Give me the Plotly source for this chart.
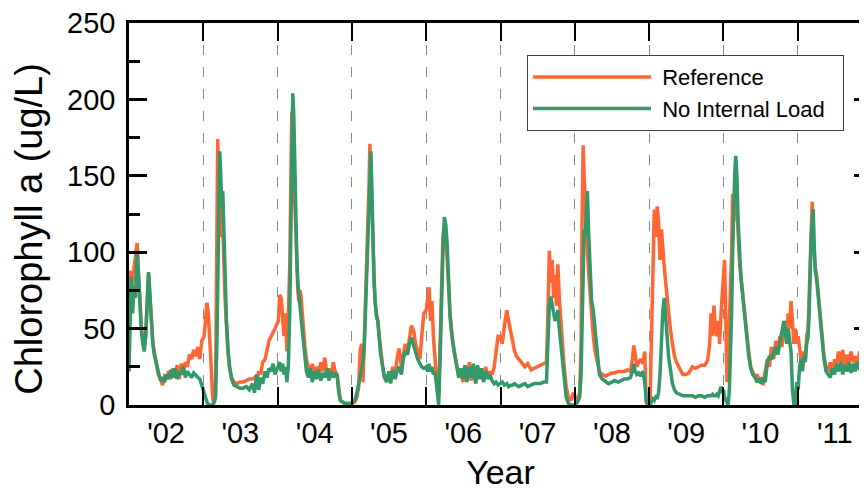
import plotly.graph_objects as go

# ---- data ----
dates = [
    # 2002
    "2002-01-01", "2002-01-06", "2002-01-12", "2002-01-19", "2002-01-26", "2002-02-02", "2002-02-10", "2002-02-17", "2002-02-24",
    "2002-03-03", "2002-03-10", "2002-03-17", "2002-03-24", "2002-03-31", "2002-04-07", "2002-04-14", "2002-04-21", "2002-04-28",
    "2002-05-05", "2002-05-15", "2002-05-25", "2002-06-05", "2002-06-15", "2002-06-25", "2002-07-05", "2002-07-15", "2002-07-25",
    "2002-08-05", "2002-08-15", "2002-08-25", "2002-09-05", "2002-09-15", "2002-09-25", "2002-10-05", "2002-10-15", "2002-10-25",
    "2002-11-05", "2002-11-15", "2002-11-25", "2002-12-05", "2002-12-15", "2002-12-25",
    # 2003
    "2003-01-05", "2003-01-12", "2003-01-19", "2003-01-26", "2003-02-02", "2003-02-09", "2003-02-16", "2003-02-23",
    "2003-03-02", "2003-03-09", "2003-03-13", "2003-03-18", "2003-03-23", "2003-03-28", "2003-04-02", "2003-04-07",
    "2003-04-12", "2003-04-18", "2003-04-25", "2003-05-02", "2003-05-10", "2003-05-20", "2003-06-01", "2003-06-15",
    "2003-07-01", "2003-07-15", "2003-08-01", "2003-08-15", "2003-09-01", "2003-09-10", "2003-09-20", "2003-10-01",
    "2003-10-10", "2003-10-20", "2003-11-01", "2003-11-10", "2003-11-20", "2003-12-01", "2003-12-10", "2003-12-20",
    # 2004
    "2004-01-05", "2004-01-12", "2004-01-19", "2004-01-26", "2004-02-02", "2004-02-09", "2004-02-16", "2004-02-23",
    "2004-03-01", "2004-03-06", "2004-03-11", "2004-03-16", "2004-03-21", "2004-03-26", "2004-03-31", "2004-04-05",
    "2004-04-10", "2004-04-15", "2004-04-20", "2004-04-25", "2004-05-01", "2004-05-08", "2004-05-15", "2004-05-22",
    "2004-06-01", "2004-06-10", "2004-06-20", "2004-07-01", "2004-07-10", "2004-07-20", "2004-08-01", "2004-08-10",
    "2004-08-20", "2004-09-01", "2004-09-10", "2004-09-20", "2004-10-01", "2004-10-10", "2004-10-20", "2004-10-28",
    "2004-11-05", "2004-11-15", "2004-11-25", "2004-12-05", "2004-12-15", "2004-12-25",
    # 2005
    "2005-01-05", "2005-01-15", "2005-01-25", "2005-02-03", "2005-02-10", "2005-02-17", "2005-02-24", "2005-03-03",
    "2005-03-10", "2005-03-15", "2005-03-20", "2005-03-25", "2005-03-30", "2005-04-04", "2005-04-09", "2005-04-14",
    "2005-04-19", "2005-04-24", "2005-05-01", "2005-05-08", "2005-05-15", "2005-05-22", "2005-06-01", "2005-06-10",
    "2005-06-20", "2005-07-01", "2005-07-10", "2005-07-20", "2005-08-01", "2005-08-10", "2005-08-20", "2005-09-01",
    "2005-09-10", "2005-09-20", "2005-10-01", "2005-10-10", "2005-10-20", "2005-11-01", "2005-11-10", "2005-11-20",
    "2005-12-01", "2005-12-10", "2005-12-20",
    # 2006
    "2006-01-01", "2006-01-08", "2006-01-15", "2006-01-22", "2006-01-29", "2006-02-05", "2006-02-12", "2006-02-19",
    "2006-02-26", "2006-03-03", "2006-03-10", "2006-03-17", "2006-03-24", "2006-03-31", "2006-04-07", "2006-04-14",
    "2006-04-21", "2006-04-28", "2006-05-05", "2006-05-12", "2006-05-20", "2006-06-01", "2006-06-10", "2006-06-20",
    "2006-07-01", "2006-07-10", "2006-07-20", "2006-08-01", "2006-08-10", "2006-08-20", "2006-09-01", "2006-09-10",
    "2006-09-20", "2006-10-01", "2006-10-10", "2006-10-20", "2006-11-01", "2006-11-10", "2006-11-20", "2006-12-01",
    "2006-12-10", "2006-12-20",
    # 2007
    "2007-01-01", "2007-01-10", "2007-01-20", "2007-02-01", "2007-02-10", "2007-02-20", "2007-03-01", "2007-03-10",
    "2007-03-20", "2007-04-01", "2007-04-15", "2007-05-01", "2007-05-15", "2007-06-01", "2007-06-15", "2007-07-01",
    "2007-07-15", "2007-08-01", "2007-08-15", "2007-08-22", "2007-08-29", "2007-09-05", "2007-09-12", "2007-09-19",
    "2007-09-26", "2007-10-03", "2007-10-10", "2007-10-17", "2007-10-24", "2007-11-01", "2007-11-10", "2007-11-20",
    "2007-12-01", "2007-12-15", "2007-12-25",
    # 2008
    "2008-01-05", "2008-01-15", "2008-01-25", "2008-02-01", "2008-02-06", "2008-02-11", "2008-02-16", "2008-02-21",
    "2008-02-26", "2008-03-03", "2008-03-10", "2008-03-17", "2008-03-24", "2008-04-01", "2008-04-10", "2008-04-20",
    "2008-05-01", "2008-05-15", "2008-06-01", "2008-06-15", "2008-07-01", "2008-07-15", "2008-08-01", "2008-08-15",
    "2008-09-01", "2008-09-15", "2008-10-01", "2008-10-10", "2008-10-17", "2008-10-24", "2008-11-01", "2008-11-10",
    "2008-11-20", "2008-12-01", "2008-12-10", "2008-12-17", "2008-12-25",
    # 2009
    "2009-01-05", "2009-01-12", "2009-01-19", "2009-01-26", "2009-02-02", "2009-02-09", "2009-02-16", "2009-02-23",
    "2009-03-02", "2009-03-09", "2009-03-16", "2009-03-23", "2009-03-30", "2009-04-06", "2009-04-15", "2009-04-25",
    "2009-05-05", "2009-05-15", "2009-06-01", "2009-06-15", "2009-07-01", "2009-07-15", "2009-08-01", "2009-08-15",
    "2009-09-01", "2009-09-15", "2009-10-01", "2009-10-15", "2009-10-25", "2009-11-01", "2009-11-08", "2009-11-15",
    "2009-11-22", "2009-11-29", "2009-12-06", "2009-12-13", "2009-12-20", "2009-12-27",
    # 2010
    "2010-01-01", "2010-01-06", "2010-01-12", "2010-01-18", "2010-01-24", "2010-01-30", "2010-02-05", "2010-02-10",
    "2010-02-15", "2010-02-20", "2010-02-25", "2010-03-02", "2010-03-08", "2010-03-14", "2010-03-20", "2010-03-27",
    "2010-04-03", "2010-04-10", "2010-04-18", "2010-04-26", "2010-05-05", "2010-05-15", "2010-05-25", "2010-06-05",
    "2010-06-15", "2010-06-25", "2010-07-05", "2010-07-15", "2010-07-25", "2010-08-05", "2010-08-15", "2010-08-25",
    "2010-09-05", "2010-09-15", "2010-09-25", "2010-10-05", "2010-10-15", "2010-10-25", "2010-11-01", "2010-11-08",
    "2010-11-15", "2010-11-22", "2010-11-29", "2010-12-06", "2010-12-13", "2010-12-20", "2010-12-27",
    # 2011
    "2011-01-03", "2011-01-10", "2011-01-17", "2011-01-24", "2011-01-31", "2011-02-07", "2011-02-14", "2011-02-21",
    "2011-02-26", "2011-03-03", "2011-03-08", "2011-03-13", "2011-03-18", "2011-03-23", "2011-03-28", "2011-04-04",
    "2011-04-11", "2011-04-18", "2011-04-25", "2011-05-02", "2011-05-10", "2011-05-20", "2011-06-01", "2011-06-10",
    "2011-06-20", "2011-07-01", "2011-07-10", "2011-07-20", "2011-08-01", "2011-08-10", "2011-08-20", "2011-09-01",
    "2011-09-10", "2011-09-20", "2011-10-01", "2011-10-10", "2011-10-20", "2011-11-01", "2011-11-10", "2011-11-20",
    "2011-12-01", "2011-12-10", "2011-12-20", "2011-12-31",
]

reference = [
    # 2002
    30, 88, 75, 80, 90, 98, 106, 85, 70, 50, 45, 38, 45, 70, 86, 70, 50, 42, 35, 28,
    20, 17, 13, 19, 18, 22, 17, 24, 18, 26, 17, 27, 22, 28, 25, 33, 30, 36, 32, 38, 30, 42,
    # 2003
    45, 55, 67, 60, 45, 25, 5, 1, 5, 150, 174, 150, 130, 110, 140, 110, 95, 70, 50, 35,
    25, 18, 15, 14, 15, 15, 16, 17, 17, 18, 15, 22, 20, 28, 30, 35, 42, 45, 48, 50,
    # 2004
    55, 72, 70, 55, 45, 60, 35, 60, 90, 140, 192, 170, 150, 120, 100, 90, 75, 68, 75, 72,
    60, 45, 38, 30, 25, 20, 27, 18, 25, 20, 28, 22, 31, 20, 24, 18, 28, 22, 20, 10,
    3, 2, 1, 1, 1, 1,
    # 2005
    1, 2, 5, 12, 35, 40, 15, 45, 70, 100, 120, 140, 171, 150, 125, 100, 80, 68, 60, 55,
    45, 35, 25, 18, 17, 20, 16, 25, 18, 30, 37, 25, 32, 40, 35, 45, 52, 48, 40, 35,
    30, 45, 60,
    # 2006
    62, 70, 77, 55, 68, 45, 30, 20, 10, 5, 40, 80, 110, 118, 110, 95, 75, 60, 50, 40,
    35, 25, 18, 22, 15, 25, 17, 28, 16, 24, 15, 25, 18, 22, 16, 25, 18, 22, 20, 25,
    35, 45,
    # 2007
    45, 40, 52, 62, 55, 48, 40, 36, 32, 30, 28, 25, 27, 23, 24, 25, 26, 27, 28, 60,
    101, 80, 95, 70, 85, 65, 92, 70, 55, 40, 25, 12, 5, 3, 8,
    # 2008
    5, 3, 8, 40, 120, 170, 150, 130, 110, 100, 85, 70, 55, 45, 35, 28, 22, 20, 19, 20,
    21, 21, 22, 22, 22, 23, 22, 30, 39, 33, 25, 28, 30, 27, 35, 2, 0,
    # 2009
    2, 40, 90, 128, 110, 130, 120, 95, 115, 100, 90, 80, 70, 60, 50, 40, 32, 28, 23, 20,
    20, 21, 25, 24, 25, 26, 26, 29, 40, 60, 45, 65, 50, 45, 55, 40, 60, 75,
    # 2010
    85, 95, 60, 15, 30, 50, 70, 100, 138, 120, 140, 160, 130, 110, 95, 85, 75, 65, 55, 45,
    35, 25, 22, 18, 20, 16, 18, 13, 22, 30, 25, 38, 30, 42, 35, 45, 38, 50, 55, 45,
    60, 50, 68, 55, 40, 50, 40,
    # 2011
    45, 35, 30, 25, 35, 30, 45, 50, 70, 100, 120, 133, 110, 100, 90, 85, 75, 62, 50, 40,
    32, 25, 22, 28, 20, 30, 25, 35, 28, 36, 25, 33, 27, 35, 28, 32, 25, 35, 30, 38,
    42, 40, 44, 41,
]

no_internal_load = [
    # 2002
    22, 55, 84, 60, 78, 70, 100, 85, 60, 48, 40, 35, 45, 65, 87, 72, 50, 40, 33, 27,
    20, 16, 18, 15, 20, 17, 23, 18, 24, 17, 22, 20, 25, 18, 22, 20, 18, 21, 19, 18, 17, 12,
    # 2003
    8, 5, 2, 0, 0, 0, 0, 2, 5, 40, 90, 110, 166, 150, 130, 140, 110, 90, 55, 38,
    25, 17, 13, 12, 11, 11, 12, 10, 14, 8, 20, 10, 18, 14, 22, 18, 24, 22, 27, 20,
    # 2004
    25, 28, 22, 27, 20, 25, 15, 25, 60, 110, 160, 204, 190, 150, 110, 95, 80, 70, 65, 58,
    50, 42, 30, 22, 18, 24, 15, 22, 17, 23, 16, 21, 18, 24, 16, 22, 18, 21, 19, 8,
    3, 2, 1, 1, 1, 1,
    # 2005
    2, 3, 8, 15, 20, 24, 28, 40, 65, 90, 110, 130, 150, 166, 140, 105, 82, 70, 58, 55,
    42, 33, 25, 18, 15, 22, 14, 23, 17, 22, 25, 20, 30, 35, 33, 40, 44, 38, 35, 30,
    27, 25, 24,
    # 2006
    25, 22, 27, 22, 25, 20, 22, 15, 2, 0, 30, 70, 100, 123, 118, 105, 80, 58, 48, 40,
    33, 25, 18, 24, 17, 26, 15, 25, 18, 27, 14, 26, 17, 24, 15, 22, 17, 20, 16, 14,
    15, 13,
    # 2007
    14, 15, 13, 14, 12, 13, 13, 14, 13, 12, 13, 14, 12, 13, 14, 14, 14, 15, 15, 40,
    65, 71, 65, 60, 55, 58, 62, 50, 40, 28, 15, 5, 1, 0, 0,
    # 2008
    0, 2, 5, 20, 50, 90, 115, 110, 125, 140, 110, 80, 68, 62, 50, 32, 20, 17, 15, 14,
    15, 16, 15, 16, 17, 17, 18, 22, 27, 22, 20, 21, 19, 22, 15, 3, 0,
    # 2009
    0, 2, 4, 3, 5, 4, 8, 20, 45, 62, 70, 60, 45, 32, 22, 14, 10, 8, 7, 6,
    6, 6, 6, 5, 6, 6, 5, 6, 6, 6, 7, 6, 6, 7, 6, 9, 12, 8,
    # 2010
    10, 5, 3, 1, 0, 10, 30, 60, 100, 130, 150, 163, 150, 120, 100, 85, 75, 65, 55, 45,
    32, 24, 20, 18, 15, 17, 14, 18, 15, 28, 32, 30, 35, 38, 33, 42, 48, 55, 45, 40,
    50, 42, 35, 10, 0, 0, 15,
    # 2011
    10, 25, 30, 22, 32, 28, 40, 45, 60, 90, 110, 120, 128, 105, 88, 82, 72, 60, 48, 38,
    30, 22, 20, 18, 24, 20, 27, 22, 28, 20, 26, 22, 28, 21, 27, 22, 28, 23, 27, 25,
    27, 28, 26, 28,
]

assert len(dates) == len(reference) == len(no_internal_load)

years = list(range(2002, 2012))
tick_labels = ["'02", "'03", "'04", "'05", "'06", "'07", "'08", "'09", "'10", "'11"]
label_positions = [f"{y}-07-02" for y in years]          # labels centred in each year
year_starts = [f"{y}-01-01" for y in years[1:]]           # dashed year boundaries
x_range = ["2002-01-01", "2012-01-01"]
y_major = [0, 50, 100, 150, 200, 250]

FONT = "Liberation Sans, Arial, Helvetica, sans-serif"
NB = "\u00a0"

fig = go.Figure()
fig.add_trace(go.Scatter(x=dates, y=reference, name=NB + "Reference", mode="lines",
                         line=dict(color="#FF6633", width=3.5)))
fig.add_trace(go.Scatter(x=dates, y=no_internal_load, name=NB + "No Internal Load" + NB + NB,
                         mode="lines", line=dict(color="#33996A", width=3.5)))

# The page body adds an 8px offset; the plot area runs slightly past the
# right edge of the window, as in the reference.
fig.update_layout(
    width=864, height=483,
    margin=dict(l=121, r=0, t=15, b=86),
    paper_bgcolor="white", plot_bgcolor="white",
    font=dict(family=FONT, color="black"),
    legend=dict(x=0.5357, y=0.916, xanchor="left", yanchor="top",
                bgcolor="white", bordercolor="#404040", borderwidth=1,
                font=dict(size=22, family=FONT, color="black"),
                itemwidth=118),
    xaxis=dict(
        type="date", range=x_range, automargin=False,
        tickmode="array", tickvals=label_positions, ticktext=tick_labels,
        ticks="", ticklabelstandoff=0,
        tickfont=dict(size=29, family=FONT),
        showgrid=False, zeroline=False,
        showline=True, linecolor="black", linewidth=2.5, mirror="ticks",
        minor=dict(tickmode="array", tickvals=year_starts, ticks="inside",
                   ticklen=18, tickwidth=2, tickcolor="black",
                   showgrid=True, gridcolor="#8a8a8a", gridwidth=1,
                   griddash="10px,12px"),
        title=dict(text="Year", font=dict(size=34, family=FONT), standoff=16),
    ),
    yaxis=dict(
        range=[0, 250], tickmode="array", tickvals=y_major, automargin=False,
        ticks="inside", ticklen=18, tickwidth=2.5, tickcolor="black",
        ticklabelstandoff=5, ticklabeloverflow="allow",
        tickfont=dict(size=29, family=FONT),
        showgrid=False, zeroline=False,
        showline=True, linecolor="black", linewidth=2.5, mirror="ticks",
        minor=dict(dtick=25, ticks="inside", ticklen=11, tickwidth=2.5,
                   tickcolor="black", showgrid=False),
    ),
    annotations=[dict(text="Chlorophyll a (ug/L)", textangle=-90, showarrow=False,
                      xref="paper", yref="paper", x=-0.135, y=0.4607,
                      xanchor="center", yanchor="middle",
                      font=dict(size=38, family=FONT, color="black"))],
)

fig.write_html("out.html")
